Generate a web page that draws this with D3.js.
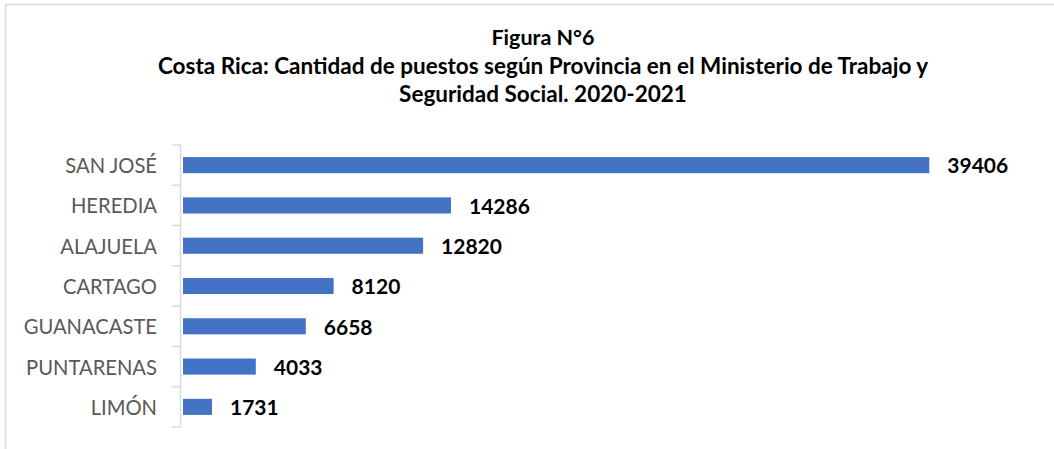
<!DOCTYPE html>
<html>
<head>
<meta charset="utf-8">
<script src="https://cdn.jsdelivr.net/npm/d3@7/dist/d3.min.js"></script>
<style>
  html, body { margin: 0; padding: 0; background: #fff; }
  svg { display: block; }
</style>
</head>
<body>
<svg id="chart" width="1054" height="449"></svg>
<script>
const titleLines = [
  "Figura N°6",
  "Costa Rica: Cantidad de puestos según Provincia en el Ministerio de Trabajo y",
  "Seguridad Social. 2020-2021"
];
const provinces = ["SAN JOSÉ", "HEREDIA", "ALAJUELA", "CARTAGO", "GUANACASTE", "PUNTARENAS", "LIMÓN"];
const puestos = [39406, 14286, 12820, 8120, 6658, 4033, 1731];

const W = 1054, H = 449;
const svg = d3.select("#chart");
const FONT = "Lato, 'Liberation Sans', sans-serif";

// frame
svg.append("rect")
  .attr("x", 5.5).attr("y", 4.5)
  .attr("width", W + 20).attr("height", H + 20)
  .attr("fill", "#fff")
  .attr("stroke", "#d9d9d9").attr("stroke-width", 1.5);

// title
const titleBaselines = [45, 73.5, 102];
const titleSizes = [21.5, 22.5, 22.5];
svg.append("g").selectAll("text")
  .data(titleLines)
  .join("text")
  .attr("x", 543)
  .attr("y", (d, i) => titleBaselines[i])
  .attr("text-anchor", "middle")
  .attr("font-family", FONT)
  .attr("font-weight", "bold")
  .attr("font-size", (d, i) => titleSizes[i])
  .attr("fill", "#000")
  .text(d => d);

// scales
const x = d3.scaleLinear().domain([0, 40000]).range([179, 940.6]);
const y = d3.scaleBand().domain(provinces).range([145, 427]).paddingInner(0.6).paddingOuter(0.3);
const axisX = 180.5;
const barStart = 183;

// axis line + ticks
const g = svg.append("g");
g.append("line")
  .attr("x1", axisX).attr("x2", axisX)
  .attr("y1", y.range()[0]).attr("y2", y.range()[1])
  .attr("stroke", "#d9d9d9").attr("stroke-width", 1.5);
const tickYs = d3.range(provinces.length + 1).map(i => y.range()[0] + i * y.step());
g.selectAll("line.tick")
  .data(tickYs)
  .join("line")
  .attr("class", "tick")
  .attr("x1", 172).attr("x2", axisX)
  .attr("y1", d => d).attr("y2", d => d)
  .attr("stroke", "#d9d9d9").attr("stroke-width", 1.5);

// category labels
g.selectAll("text.cat")
  .data(provinces)
  .join("text")
  .attr("class", "cat")
  .attr("x", 157)
  .attr("y", d => y(d) + y.bandwidth() / 2 + 1)
  .attr("dy", "0.35em")
  .attr("text-anchor", "end")
  .attr("font-family", FONT)
  .attr("font-size", 20.2)
  .attr("fill", "#595959")
  .text(d => d);

// bars
g.selectAll("rect.bar")
  .data(provinces)
  .join("rect")
  .attr("class", "bar")
  .attr("x", barStart)
  .attr("y", d => y(d))
  .attr("width", (d, i) => x(puestos[i]) - barStart)
  .attr("height", y.bandwidth())
  .attr("fill", "#4472C4");

// value labels
g.selectAll("text.val")
  .data(provinces)
  .join("text")
  .attr("class", "val")
  .attr("x", (d, i) => x(puestos[i]) + 18)
  .attr("y", d => y(d) + y.bandwidth() / 2 + 1)
  .attr("dy", "0.35em")
  .attr("font-family", FONT)
  .attr("font-weight", "bold")
  .attr("font-size", 21)
  .attr("fill", "#000")
  .text((d, i) => puestos[i]);
</script>
</body>
</html>
